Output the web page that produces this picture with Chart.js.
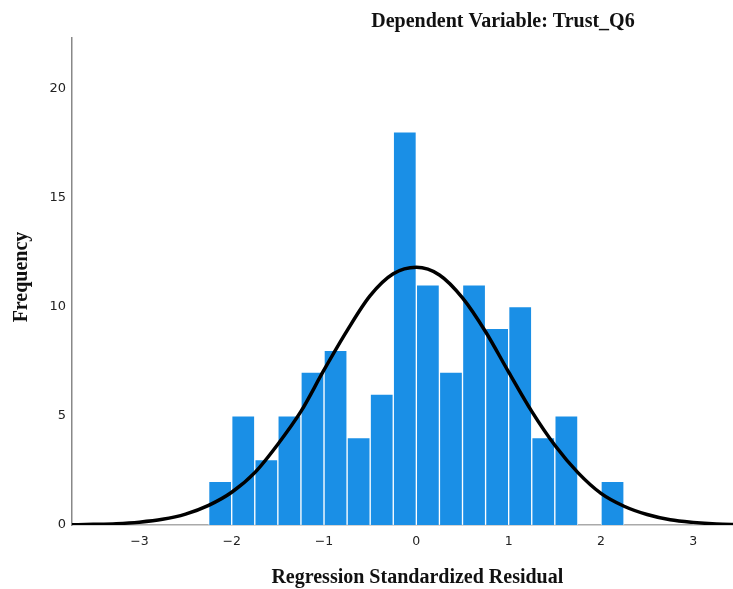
<!DOCTYPE html>
<html>
<head>
<meta charset="utf-8">
<script src="https://cdn.jsdelivr.net/npm/chart.js@4/dist/chart.umd.min.js"></script>
<style>
html,body{margin:0;padding:0;background:#fff;}
#wrap{width:733px;height:589px;position:relative;}
</style>
</head>
<body>
<div id="wrap"><canvas id="c" width="733" height="589"></canvas></div>
<script>
// Histogram bins (centres of 0.25-wide bins) and frequencies
const binCenters = [-2.125,-1.875,-1.625,-1.375,-1.125,-0.875,-0.625,-0.375,-0.125,0.125,0.375,0.625,0.875,1.125,1.375,1.625,1.875,2.125];
const frequencies = [2,5,3,5,7,8,4,6,18,11,7,11,9,10,4,5,0,2];
// Normal curve
const curveX = [-3.75,-3.5,-3.25,-3.0,-2.75,-2.5,-2.25,-2.0,-1.75,-1.5,-1.25,-1.0,-0.75,-0.5,-0.25,0,0.25,0.5,0.75,1.0,1.25,1.5,1.75,2.0,2.25,2.5,2.75,3.0,3.25,3.5];
const curveY = [0.01,0.03,0.06,0.13,0.26,0.5,0.9,1.5,2.4,3.7,5.2,7.1,8.9,10.5,11.5,11.8,11.45,10.4,8.85,7.0,5.2,3.65,2.4,1.45,0.86,0.48,0.24,0.12,0.05,0.02];
const xTicks = [-3,-2,-1,0,1,2,3];
const yTicks = [0,5,10,15,20];
const subtitle = 'Dependent Variable: Trust_Q6';
const xTitle = 'Regression Standardized Residual';
const yTitle = 'Frequency';

const titleFont = 'bold 20px "Liberation Serif", "Times New Roman", serif';

const textPlugin = {
  id: 'texts',
  afterDraw(chart) {
    const ctx = chart.ctx, a = chart.chartArea, xs = chart.scales.x;
    ctx.save();
    ctx.font = titleFont;
    ctx.fillStyle = '#111';
    ctx.textAlign = 'center';
    ctx.textBaseline = 'alphabetic';
    // subtitle
    ctx.fillText(subtitle, a.left + (a.right - a.left) * 0.652, 27);
    // x axis title
    ctx.fillText(xTitle, xs.getPixelForValue(0) + 1, 583);
    // y axis title
    ctx.translate(27, 277);
    ctx.rotate(-Math.PI / 2);
    ctx.fillText(yTitle, 0, 0);
    ctx.restore();
  }
};

const minus = v => String(v).replace('-', '\u2212');

new Chart(document.getElementById('c'), {
  data: {
    datasets: [
      {
        type: 'line',
        data: curveX.map((x, i) => ({x, y: curveY[i]})),
        borderColor: '#000',
        borderWidth: 3.5,
        pointRadius: 0,
        cubicInterpolationMode: 'monotone',
        fill: false,
        order: 0
      },
      {
        type: 'bar',
        data: binCenters.map((x, i) => ({x, y: frequencies[i]})),
        backgroundColor: '#1a8fe6',
        borderColor: 'rgba(255,255,255,0.75)',
        borderWidth: 1,
        barPercentage: 1,
        categoryPercentage: 1,
        order: 1
      }
    ]
  },
  options: {
    responsive: false,
    animation: false,
    layout: {padding: {top: 38, right: 0, left: 0, bottom: 0}},
    plugins: {legend: {display: false}, tooltip: {enabled: false}},
    scales: {
      x: {
        type: 'linear',
        offset: false,
        min: -3.73,
        max: 3.43,
        grid: {display: false, drawTicks: false, tickLength: 0},
        border: {display: true, color: '#aaa', width: 1.5},
        afterBuildTicks: s => { s.ticks = xTicks.map(v => ({value: v})); },
        afterFit: s => { s.height = 64; },
        ticks: {
          padding: 9,
          color: '#222',
          font: {family: '"DejaVu Sans", sans-serif', size: 12.5},
          callback: v => minus(v)
        }
      },
      y: {
        type: 'linear',
        min: 0,
        max: 22.3,
        grid: {display: false, drawTicks: false, tickLength: 0},
        border: {display: true, color: '#888', width: 1.5},
        afterBuildTicks: s => { s.ticks = yTicks.map(v => ({value: v})); },
        afterFit: s => { s.width = 72; },
        ticks: {
          padding: 6,
          color: '#222',
          font: {family: '"DejaVu Sans", sans-serif', size: 13}
        }
      }
    }
  },
  plugins: [textPlugin]
});
</script>
</body>
</html>
